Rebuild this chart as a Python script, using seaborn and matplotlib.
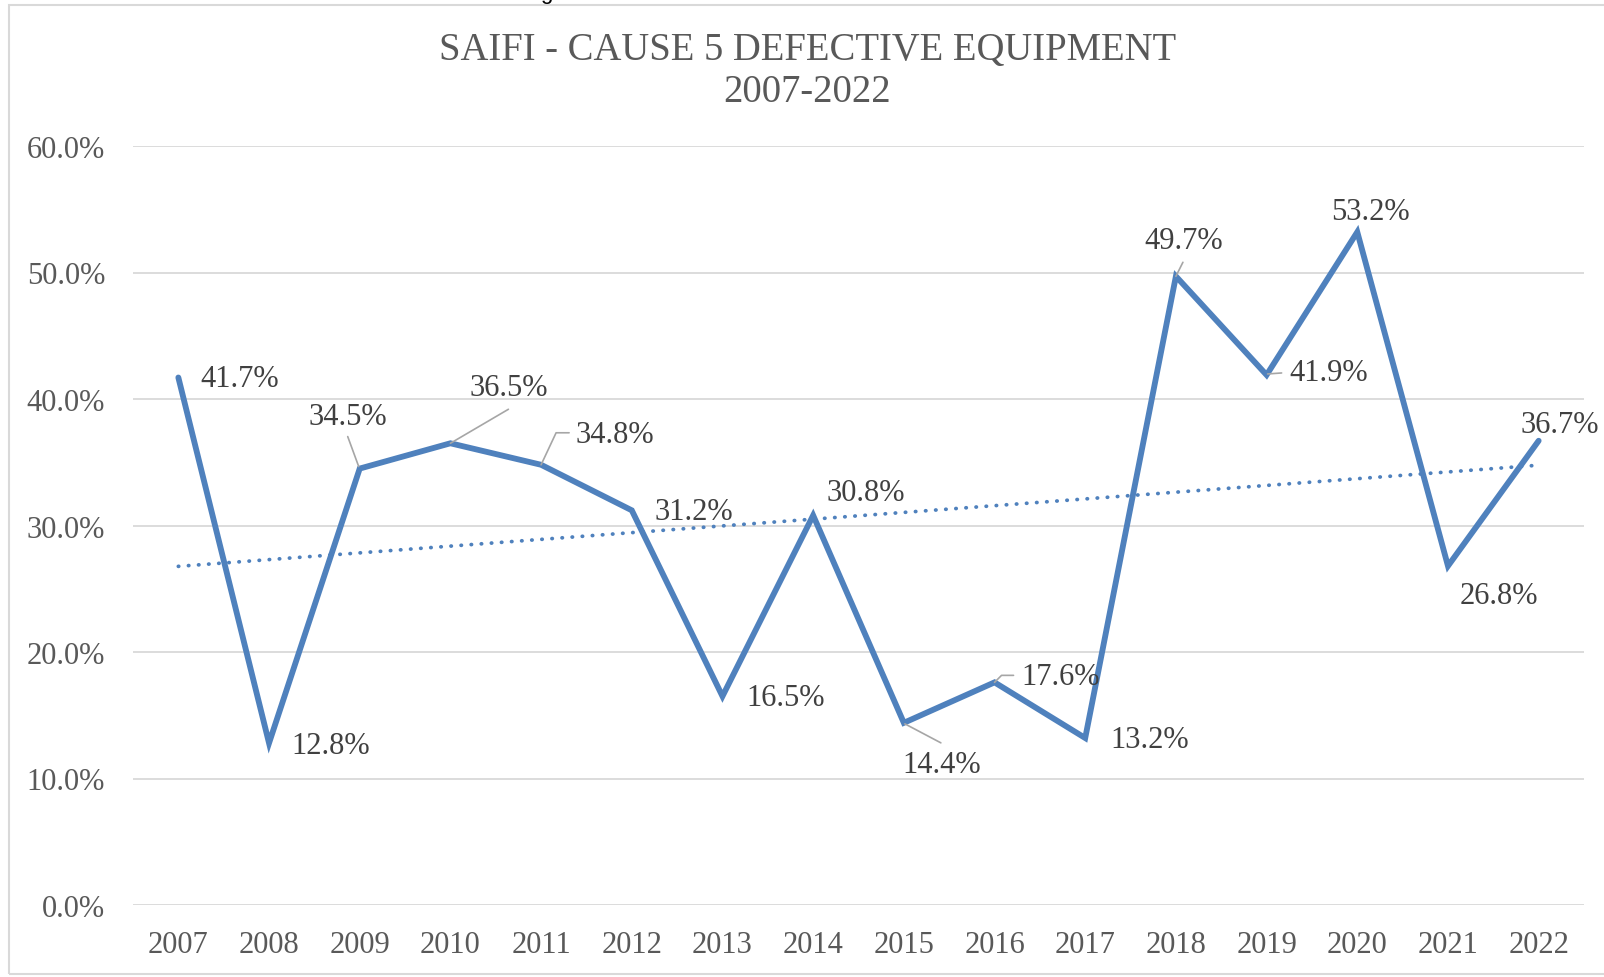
import numpy as np
import pandas as pd
import matplotlib
matplotlib.use("Agg")
import matplotlib.pyplot as plt
from matplotlib.ticker import FuncFormatter
from matplotlib.patches import Rectangle
import seaborn as sns

# data
years = [2007, 2008, 2009, 2010, 2011, 2012, 2013, 2014,
         2015, 2016, 2017, 2018, 2019, 2020, 2021, 2022]
saifi_pct = [41.7, 12.8, 34.5, 36.5, 34.8, 31.2, 16.5, 30.8,
             14.4, 17.6, 13.2, 49.7, 41.9, 53.2, 26.8, 36.7]
y_ticks = [0, 10, 20, 30, 40, 50, 60]

title_line1 = "SAIFI - CAUSE 5 DEFECTIVE EQUIPMENT"
title_line2 = "2007-2022"

df = pd.DataFrame({"year": years, "pct": saifi_pct})

BLUE = "#4F81BD"
GRID = "#D9D9D9"
TXT = "#595959"
LBL = "#404040"
LEAD = "#A6A6A6"
SERIF = ["Liberation Serif", "DejaVu Serif"]

# label offsets from the point, image pixels (dx right, dy down)
label_off = {
    2007: (61, 1), 2008: (62, 2), 2009: (-12, -52), 2010: (58, -56),
    2011: (74, -30), 2012: (62, 1), 2013: (63, 1), 2014: (53, -23),
    2015: (38, 42), 2016: (66, -6), 2017: (64, 1), 2018: (8, -36),
    2019: (62, -2), 2020: (13, -21), 2021: (51, 30), 2022: (21, -16),
}
# leader lines (image pixel offsets from the point)
leaders = {
    2009: [(-1, -2), (-12, -32)],
    2010: [(0, 0), (58, -34)],
    2011: [(0, 0), (15, -32), (28, -32)],
    2015: [(1, 1), (37, 20)],
    2016: [(0, 0), (7, -7), (19, -7)],
    2018: [(0, 0), (7, -14)],
    2019: [(1, -1), (15, -2)],
}

sns.set_theme(style="white")
plt.rcParams["font.family"] = SERIF

W, H = 1604, 978
fig = plt.figure(figsize=(W / 100, H / 100), dpi=100)
ax = fig.add_axes([133 / W, 1 - 906 / H, (1584 - 133) / W, (906 - 147) / H])

# outer chart border
fig.patches.append(Rectangle((9 / W, 1 - 975 / H), 1.2, (975 - 6) / H,
                             transform=fig.transFigure, fill=False,
                             edgecolor=GRID, lw=1.5))

sns.lineplot(data=df, x="year", y="pct", ax=ax, color=BLUE, lw=4.2,
             solid_joinstyle="miter", zorder=3)
sns.regplot(data=df, x="year", y="pct", ax=ax, scatter=False, ci=None,
            color=BLUE, line_kws=dict(lw=2.7, ls=(0, (0.1, 2.6)),
                                      dash_capstyle="round", zorder=2))

ax.set_xlim(2006.5, 2022.5)
ax.set_ylim(0, 60)
ax.set_yticks(y_ticks)
ax.set_xticks(years)
ax.yaxis.set_major_formatter(FuncFormatter(lambda v, p: f"{v:.1f}%"))
ax.grid(axis="y", color=GRID, lw=1.3)
ax.grid(axis="x", visible=False)
ax.set_axisbelow(True)
for s in ax.spines.values():
    s.set_visible(False)
ax.set_xlabel("")
ax.set_ylabel("")
ax.tick_params(axis="both", length=0, labelsize=22, labelcolor=TXT)
ax.tick_params(axis="y", pad=20)
ax.tick_params(axis="x", pad=18)

fig.text(807.5 / W, 1 - 50 / H, title_line1, ha="center", va="center",
         fontsize=27.8, color=TXT)
fig.text(807.5 / W, 1 - 93 / H, title_line2, ha="center", va="center",
         fontsize=27.8, color=TXT)

# clipped caption fragment above the chart
fig.text(540 / W, 1 + 1 / H, "g", ha="left", va="baseline", fontsize=16,
         color="black", family=["Liberation Sans", "DejaVu Sans"])

for yr, v in zip(years, saifi_pct):
    dx, dy = label_off[yr]
    ax.annotate(f"{v:.1f}%", xy=(yr, v), xytext=(dx * 0.72, -dy * 0.72),
                textcoords="offset points", ha="center", va="center",
                fontsize=22, color=LBL, zorder=5)

for yr, pts in leaders.items():
    v = saifi_pct[years.index(yr)]
    base = ax.transData.transform((yr, v))
    disp = np.array([[base[0] + px, base[1] - py] for px, py in pts])
    dat = ax.transData.inverted().transform(disp)
    ax.plot(dat[:, 0], dat[:, 1], color=LEAD, lw=1.2, zorder=4)

fig.savefig("out.png", dpi=100)
